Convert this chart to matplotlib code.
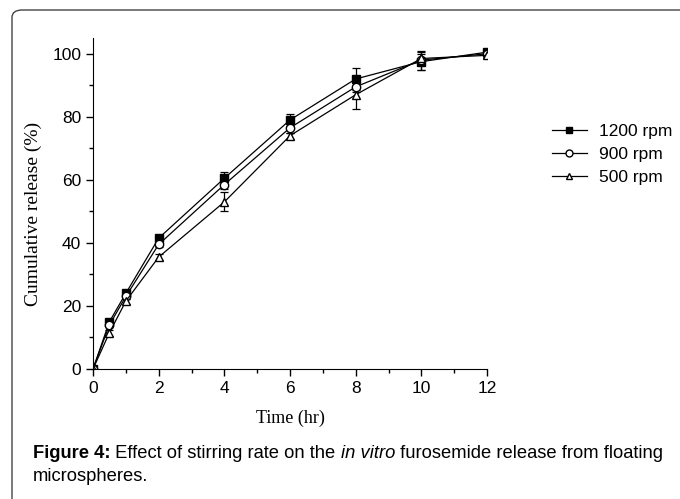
import matplotlib
matplotlib.use("Agg")
import matplotlib.pyplot as plt
from matplotlib.lines import Line2D
from matplotlib.patches import FancyBboxPatch
from matplotlib.ticker import MultipleLocator

time_hr = [0, 0.5, 1, 2, 4, 6, 8, 10, 12]
rel_1200 = [0, 15.0, 24.0, 41.5, 60.5, 79.0, 92.0, 97.5, 100.5]
err_1200 = [0, 0.8, 0.8, 0.8, 2.0, 2.0, 3.5, 2.5, 0.8]
rel_900 = [0, 14.0, 23.0, 39.5, 58.5, 76.5, 89.5, 98.0, 100.0]
err_900 = [0, 0.8, 0.8, 0.8, 1.5, 1.5, 1.5, 3.0, 1.0]
rel_500 = [0, 11.5, 21.5, 35.5, 53.0, 74.0, 87.0, 98.5, 99.5]
err_500 = [0, 1.0, 0.8, 1.0, 3.0, 1.0, 4.5, 2.0, 1.0]

series = [
    ("1200 rpm", rel_1200, err_1200, "s", "black"),
    ("900 rpm", rel_900, err_900, "o", "white"),
    ("500 rpm", rel_500, err_500, "^", "white"),
]

W, H = 680, 499
fig = plt.figure(figsize=(W / 100, H / 100), dpi=100)

# rounded frame around the figure (clipped at right/bottom)
frame = FancyBboxPatch((12 / W, -0.1), 1.2, 1 - 10 / H + 0.1,
                       boxstyle="round,pad=0,rounding_size=0.015",
                       transform=fig.transFigure, fill=False,
                       edgecolor="#444444", linewidth=1.0)
fig.patches.append(frame)

ax = fig.add_axes([93 / W, 1 - 369 / H, (487 - 93) / W, (369 - 38) / H])

handles = []
for label, y, e, m, fc in series:
    ax.errorbar(time_hr, y, yerr=e, color="black", marker=m, markersize=6,
                markerfacecolor=fc, markeredgecolor="black", linewidth=0.9,
                elinewidth=0.9, capsize=3, capthick=0.9)
    handles.append(Line2D([], [], color="black", marker=m, markersize=5,
                          markerfacecolor=fc, markeredgecolor="black",
                          linewidth=0.9, label=label))

ax.set_xlim(0, 12)
ax.set_ylim(0, 105)
ax.xaxis.set_major_locator(MultipleLocator(2))
ax.xaxis.set_minor_locator(MultipleLocator(1))
ax.yaxis.set_major_locator(MultipleLocator(20))
ax.yaxis.set_minor_locator(MultipleLocator(10))
ax.spines["top"].set_visible(False)
ax.spines["right"].set_visible(False)
ax.tick_params(which="major", direction="out", length=5, width=1,
               labelsize=12.5)
ax.tick_params(which="minor", direction="out", length=3, width=1)
for lab in ax.get_xticklabels() + ax.get_yticklabels():
    lab.set_fontfamily("Liberation Sans")

ax.set_xlabel("Time (hr)", fontfamily="Liberation Serif", fontsize=13)
ax.xaxis.set_label_coords(0.5, (369 - 410) / 331)
ax.set_ylabel("Cumulative release (%)", fontfamily="Liberation Serif",
              fontsize=14)
ax.yaxis.set_label_coords((42 - 93) / 394, (369 - 214) / 331)

fig.legend(handles=handles, loc="upper left",
           bbox_to_anchor=(552 / W, 1 - 124 / H), frameon=False,
           borderpad=0, borderaxespad=0,
           prop={"family": "Liberation Sans", "size": 12.5},
           handlelength=2.0, handletextpad=0.7, labelspacing=0.45)

# caption with bold / italic pieces
pieces = [("Figure 4:", "bold", "normal"),
          (" Effect of stirring rate on the ", "normal", "normal"),
          ("in vitro", "normal", "italic"),
          (" furosemide release from floating", "normal", "normal")]
fig.canvas.draw()
renderer = fig.canvas.get_renderer()
x = 33 / W
y1 = 1 - 458 / H
for txt, wgt, sty in pieces:
    t = fig.text(x, y1, txt, fontfamily="Liberation Sans", fontsize=13.2,
                 fontweight=wgt, fontstyle=sty, va="baseline")
    bb = t.get_window_extent(renderer)
    x += bb.width / W
fig.text(33 / W, 1 - 481 / H, "microspheres.", fontfamily="Liberation Sans",
         fontsize=13.2, va="baseline")

fig.savefig("out.png", dpi=100)
